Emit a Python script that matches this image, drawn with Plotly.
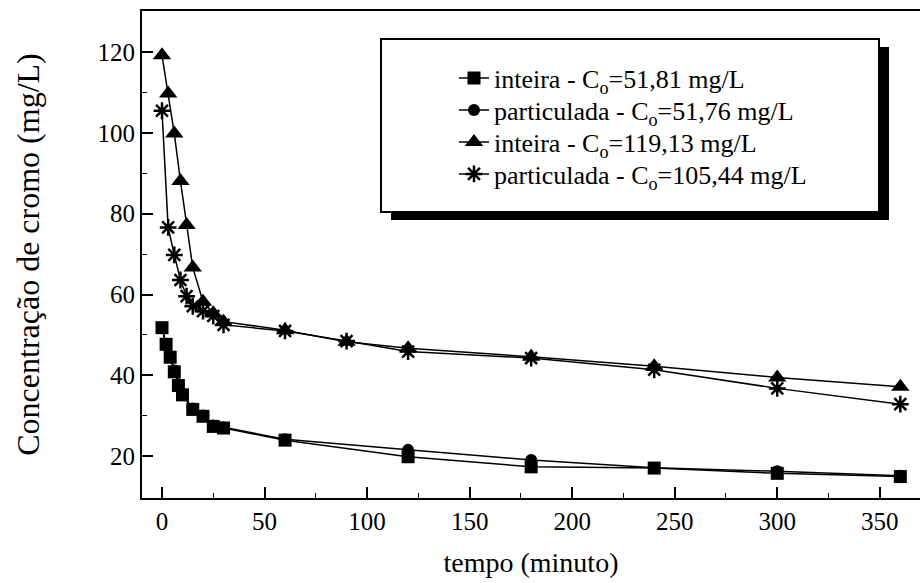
import plotly.graph_objects as go

# ---------------- data ----------------
tempo_51 = [0, 2, 4, 6, 8, 10, 15, 20, 25, 30, 60, 120, 180, 240, 300, 360]
inteira_51 = [51.81, 47.7, 44.5, 40.9, 37.5, 35.2, 31.6, 29.9, 27.4, 27.0, 24.0, 19.9, 17.4, 17.1, 15.8, 15.0]
particulada_51 = [51.76, 47.5, 44.8, 41.2, 37.8, 35.5, 31.8, 30.1, 27.6, 27.2, 24.2, 21.6, 19.1, 17.2, 16.3, 15.2]

tempo_alto = [0, 3, 6, 9, 12, 15, 20, 25, 30, 60, 90, 120, 180, 240, 300, 360]
inteira_119 = [119.13, 109.7, 99.8, 88.1, 77.2, 66.7, 58.2, 55.4, 53.3, 51.2, 48.3, 46.7, 44.6, 42.3, 39.5, 37.2]
particulada_105 = [105.44, 76.6, 69.8, 63.6, 59.6, 57.1, 55.9, 54.7, 52.5, 51.0, 48.5, 45.9, 44.3, 41.4, 36.8, 32.9]

nomes = [
    "inteira - C<sub>o</sub>=51,81 mg/L",
    "particulada - C<sub>o</sub>=51,76 mg/L",
    "inteira - C<sub>o</sub>=119,13 mg/L",
    "particulada - C<sub>o</sub>=105,44 mg/L",
]
x_ticks = [0, 50, 100, 150, 200, 250, 300, 350]
y_ticks = [20, 40, 60, 80, 100, 120]

# ---------------- layout geometry (pixels) ----------------
W, H = 920, 583
L, R, T, B = 142, 0, 11, 85
PW, PH = W - L - R, H - T - B


def px_x(px):
    return (px - L) / PW


def px_y(py):
    return (H - B - py) / PH


FONT = "Liberation Serif"

fig = go.Figure()

series = [
    (tempo_51, inteira_51, "square", 13, dict(color="black")),
    (tempo_51, particulada_51, "circle", 12, dict(color="black")),
    (tempo_alto, inteira_119, "triangle-up", 16, dict(color="black")),
    (tempo_alto, particulada_105, "asterisk-open", 14,
     dict(color="black", line=dict(color="black", width=2.5))),
]

for i, (xs, ys, sym, size, mk) in enumerate(series):
    mk = dict(mk)
    mk.update(symbol=sym, size=size)
    fig.add_trace(go.Scatter(
        x=xs, y=ys, mode="lines+markers", name=nomes[i],
        line=dict(color="black", width=1.5),
        marker=mk,
        legend="legend" if i == 0 else f"legend{i + 1}",
    ))

# legend box with drop shadow
box_l, box_r, box_t, box_b = 381, 879, 39, 212
sh = (10, 8)
fig.add_shape(type="rect", xref="paper", yref="paper",
              x0=px_x(box_l + sh[0]), x1=px_x(box_r + sh[0]),
              y0=px_y(box_b + sh[1]), y1=px_y(box_t + sh[1]),
              fillcolor="black", line=dict(width=0), layer="above")
fig.add_shape(type="rect", xref="paper", yref="paper",
              x0=px_x(box_l), x1=px_x(box_r),
              y0=px_y(box_b), y1=px_y(box_t),
              fillcolor="white", line=dict(color="black", width=2), layer="above")

row_y = [78, 110, 142, 174]
legend_left = 454
leg_common = dict(xanchor="left", yanchor="middle", bgcolor="rgba(0,0,0,0)",
                  borderwidth=0, font=dict(family=FONT, size=26, color="black"))
layout_legends = {}
for i, ry in enumerate(row_y):
    key = "legend" if i == 0 else f"legend{i + 1}"
    layout_legends[key] = dict(x=px_x(legend_left), y=px_y(ry), **leg_common)

fig.update_layout(
    width=W, height=H,
    margin=dict(l=L, r=R, t=T, b=B, pad=0),
    paper_bgcolor="white", plot_bgcolor="white",
    font=dict(family=FONT, color="black", size=25),
    showlegend=True,
    **layout_legends,
)

fig.update_xaxes(
    range=[-9.75, 369.6], showgrid=False, zeroline=False,
    showline=True, linecolor="black", linewidth=2, mirror=True,
    ticks="inside", ticklen=11, tickwidth=1.5, tickcolor="black",
    tickvals=x_ticks, ticktext=[str(v) for v in x_ticks],
    tickfont=dict(family=FONT, size=25),
    minor=dict(tickvals=[25, 75, 125, 175, 225, 275, 325], ticks="inside",
               ticklen=5, tickwidth=1.2, tickcolor="black"),
    title=dict(text="tempo (minuto)", font=dict(family=FONT, size=28), standoff=18),
)
fig.update_yaxes(
    range=[9.7, 130.1], showgrid=False, zeroline=False,
    showline=True, linecolor="black", linewidth=2, mirror=False,
    ticks="inside", ticklen=11, tickwidth=1.5, tickcolor="black",
    tickvals=y_ticks, ticktext=[str(v) for v in y_ticks],
    tickfont=dict(family=FONT, size=25),
    minor=dict(tickvals=[30, 50, 70, 90, 110], ticks="inside",
               ticklen=5, tickwidth=1.2, tickcolor="black"),
    title=dict(text="Concentração de cromo (mg/L)", font=dict(family=FONT, size=32), standoff=48),
)

fig.write_html("out.html")
